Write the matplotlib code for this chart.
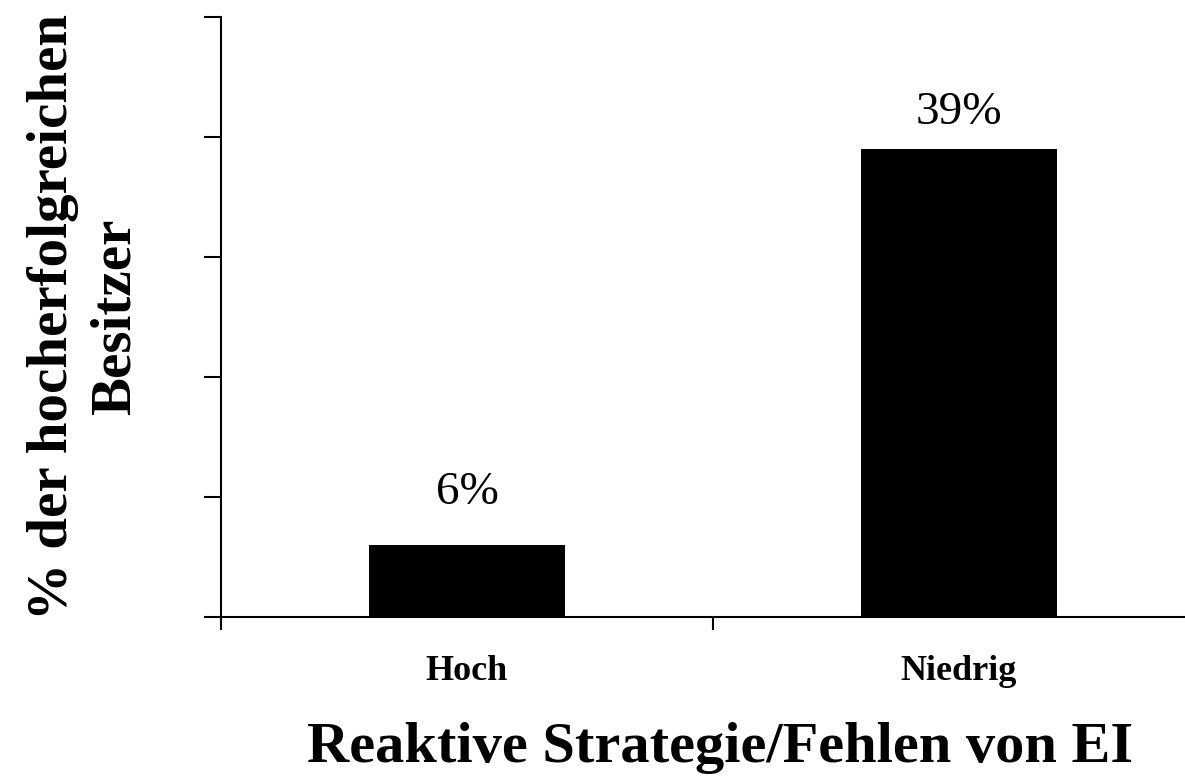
import matplotlib.pyplot as plt

# Anteil der hocherfolgreichen Besitzer nach Strategie
kategorien = ["Hoch", "Niedrig"]
anteile = [6, 39]
beschriftungen = ["6%", "39%"]
label_abstand = [22, 11]  # Abstand Beschriftung ueber Balken, in pt

plt.rcParams["font.family"] = ["Liberation Serif", "DejaVu Serif"]

fig = plt.figure(figsize=(11.85, 7.77), dpi=100)
ax = fig.add_axes([221 / 1185, 1 - 617 / 777, 984 / 1185, 600 / 777])

x = range(len(kategorien))
ax.bar(x, anteile, width=0.4, color="black")

for xi, wert, text, off in zip(x, anteile, beschriftungen, label_abstand):
    ax.annotate(text, (xi, wert), xytext=(0, off), textcoords="offset points",
                ha="center", va="bottom", fontsize=34)

ax.set_xlim(-0.5, 1.5)
ax.set_ylim(0, 50)
ax.set_yticks(range(0, 51, 10))
ax.set_yticklabels([])
ax.set_xticks([-0.5, 0.5, 1.5])
ax.set_xticklabels([])
ax.set_xticks([0, 1], minor=True)
ax.set_xticklabels(kategorien, minor=True, fontsize=26, fontweight="bold")
ax.tick_params(axis="x", which="minor", length=0, pad=27)
ax.tick_params(axis="x", which="major", length=9, width=1.5, direction="out")
ax.tick_params(axis="y", length=12, width=1.5, direction="out")

for s in ["top", "right"]:
    ax.spines[s].set_visible(False)
for s in ["left", "bottom"]:
    ax.spines[s].set_linewidth(1.5)

ax.set_xlabel("Reaktive Strategie/Fehlen von EI", fontsize=42,
              fontweight="bold", labelpad=25)
ax.xaxis.label.set_x(0.507)
ax.set_ylabel("% der hocherfolgreichen\nBesitzer", fontsize=41,
              fontweight="bold", labelpad=42, linespacing=1.25)

fig.savefig("out.png", dpi=100)
